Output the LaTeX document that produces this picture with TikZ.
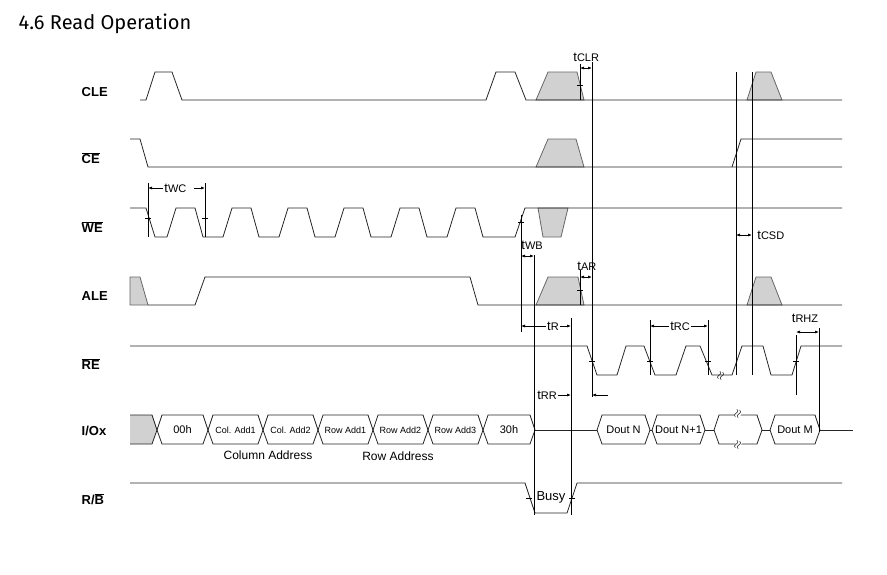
\documentclass[tikz,border=0pt]{standalone}
\usepackage{fontspec}
\setmainfont{Liberation Sans}
\newfontfamily\titlefont{Fira Sans}
\usetikzlibrary{arrows.meta}
\begin{document}
\begin{tikzpicture}[x=1pt,y=-1pt,line width=0.8pt,
  sig/.style={draw=black!85},
  shade/.style={fill=black!18,draw=black!60},
  lab/.style={font=\bfseries\fontsize{13}{13}\selectfont,anchor=west},
  tm/.style={font=\fontsize{13}{13}\selectfont,inner sep=1pt},
  bus/.style={font=\fontsize{11}{11}\selectfont,inner sep=0pt},
  busx/.style={font=\fontsize{9}{9}\selectfont,inner sep=0pt},
  guide/.style={draw=black,line width=0.7pt},
  dim/.style={draw=black,line width=0.7pt,{Latex[length=4pt,width=3pt]}-{Latex[length=4pt,width=3pt]}},
  rarr/.style={draw=black,line width=0.7pt,-{Latex[length=4pt,width=3pt]}}]
\newcommand{\sm}[1]{{\fontsize{11}{11}\selectfont #1}}
\useasboundingbox (0,0) rectangle (887,574);
\node[anchor=west,font=\titlefont\fontsize{20}{20}\selectfont] (title) at (15,24) {4.6 Read Operation};
% labels
\node[lab] (lCLE) at (78,92) {CLE};
\node[lab] (lCE) at (78,158) {$\overline{\mbox{CE}}$};
\node[lab] (lWE) at (78,227) {$\overline{\mbox{WE}}$};
\node[lab] (lALE) at (78,296) {ALE};
\node[lab] (lRE) at (78,364) {$\overline{\mbox{RE}}$};
\node[lab] (lIO) at (78,431) {I/Ox};
\node[lab] (lRB) at (78,499) {R/$\overline{\mbox{B}}$};
% shaded regions
\draw[shade] (536,100)--(548,72)--(577,72)--(584,100)--cycle;
\draw[shade] (747,100)--(756,72)--(771,72)--(782,100)--cycle;
\draw[shade] (536,167)--(548,139)--(576,139)--(584,167)--cycle;
\draw[shade] (538,208)--(568,208)--(561,237)--(543,237)--cycle;
\draw[shade] (130,277)--(140,277)--(148,305)--(130,305)--cycle;
\draw[shade] (536,305)--(548,277)--(578,277)--(584,305)--cycle;
\draw[shade] (747,305)--(756,277)--(771,277)--(782,305)--cycle;
\draw[shade,draw=none] (130,415)--(152,415)--(157,430)--(152,444)--(130,444)--cycle;
% CLE
\draw[sig] (140,100)--(146,100)--(155,72)--(172,72)--(182,100)--(486,100)--(496,72)--(515,72)--(526,100)--(842,100);
% CE
\draw[sig] (130,139)--(140,139)--(148,167)--(842,167);
\draw[sig] (732,167)--(741,139)--(842,139);
% WE
\draw[sig] (130,208)--(146,208)--(155,237)--(167,237)--(176,208)--(195,208)
  --(203,237)--(223,237)--(232,208)--(251,208)
  --(259,237)--(279,237)--(288,208)--(307,208)
  --(315,237)--(335,237)--(344,208)--(363,208)
  --(371,237)--(391,237)--(400,208)--(419,208)
  --(427,237)--(447,237)--(456,208)--(475,208)
  --(483,237)--(515,237)--(525,208)--(842,208);
% ALE
\draw[sig] (148,305)--(195,305)--(205,277)--(470,277)--(478,305)--(842,305);
% RE
\draw[sig] (130,346)--(587,346)--(597,375)--(617,375)--(626,346)--(644,346)--(655,375)--(676,375)--(686,346)--(700,346)--(712,375)--(732,375)--(742,346)--(763,346)--(771,375)--(792,375)--(801,346)--(842,346);
\node[font=\fontsize{12}{12}\selectfont,inner sep=0pt,rotate=70] (reb) at (721,376) {$\approx$};
% I/O bus
\draw[sig] (130,415)--(152,415)--(157,430)--(152,444)--(130,444);
\foreach \a/\b/\t/\s/\n in {157/208/00h/bus/h0,208/263/Col. Add1/busx/h1,263/318/Col. Add2/busx/h2,318/373/Row Add1/busx/h3,373/428/Row Add2/busx/h4,428/483/Row Add3/busx/h5,483/535/30h/bus/h6,597/650/Dout N/bus/d0,652/705/Dout N+1/bus/d1,770/820/Dout M/bus/d3}{
  \draw[sig] (\a,430)--(\a+5,415)--(\b-5,415)--(\b,430)--(\b-5,444)--(\a+5,444)--cycle;
  \node[\s] (\n) at ({(\a+\b)/2},430) {\t};
}
\draw[sig] (714,430)--(719,415)--(757,415)--(762,430)--(757,444)--(719,444)--cycle;
\node[font=\fontsize{12}{12}\selectfont,inner sep=0pt,fill=white,rotate=70] (b1) at (738,414) {$\approx$};
\node[font=\fontsize{12}{12}\selectfont,inner sep=0pt,fill=white,rotate=70] (b2) at (738,445) {$\approx$};
\draw[sig] (535,430)--(597,430) (650,430)--(652,430) (705,430)--(714,430) (762,430)--(770,430) (820,430)--(853,430);
\node[font=\fontsize{12}{12}\selectfont,inner sep=0pt] (cola) at (268,455) {Column Address};
\node[font=\fontsize{12}{12}\selectfont,inner sep=0pt] (rowa) at (398,456) {Row Address};
% R/B
\draw[sig] (130,483)--(525,483)--(535,513)--(567,513)--(577,483)--(842,483);
\node[tm] (busy) at (551,497) {Busy};
% guides
\draw[guide] (148,183)--(148,237) (205,183)--(205,237);
\draw[guide] (521,215)--(521,332) (534,255)--(534,515);
\draw[guide] (580,64)--(580,100) (592,62)--(592,397);
\draw[guide] (580,270)--(580,305);
\draw[guide] (736,72)--(736,375) (752,72)--(752,375);
\draw[guide] (571,318)--(571,515);
\draw[guide] (650,320)--(650,375) (708,320)--(708,375);
\draw[guide] (796,335)--(796,395) (819,328)--(819,432);
% ticks
\foreach \x/\y in {148/218,205/218,521/222,580/85,580/290,529/498,572/498,592/361,650/361,708/361,796/361}
  \draw[guide] (\x-3,\y)--(\x+3,\y);
% timing labels
\node[tm,anchor=west] (tWC) at (163,188) {t\sm{WC}};
\draw[rarr] (tWC.west)--(148,188);
\draw[rarr] (194,188)--(205,188);
\node[tm,anchor=south west] (tCLR) at (572,63) {t\sm{CLR}};
\draw[dim] (580,68)--(592,68);
\node[tm,anchor=west] (tCSD) at (756,235) {t\sm{CSD}};
\draw[dim] (736,235)--(752,235);
\node[tm,anchor=south west] (tWB) at (520,251) {t\sm{WB}};
\draw[dim] (521,256)--(534,256);
\node[tm,anchor=south west] (tAR) at (576,272) {t\sm{AR}};
\draw[dim] (580,277)--(592,277);
\node[tm] (tR) at (553,326) {t\sm{R}};
\draw[rarr] (tR.west)--(521,326);
\draw[rarr] (tR.east)--(571,326);
\node[tm] (tRC) at (680,326) {t\sm{RC}};
\draw[rarr] (tRC.west)--(650,326);
\draw[rarr] (tRC.east)--(708,326);
\node[tm,anchor=south] (tRHZ) at (805,324) {t\sm{RHZ}};
\draw[dim] (796,332)--(819,332);
\node[tm] (tRR) at (547,395) {t\sm{RR}};
\draw[rarr] (tRR.east)--(571,395);
\coordinate (reaS) at (608,395);
\draw[rarr] (reaS)--(592,395);
\end{tikzpicture}
\end{document}
